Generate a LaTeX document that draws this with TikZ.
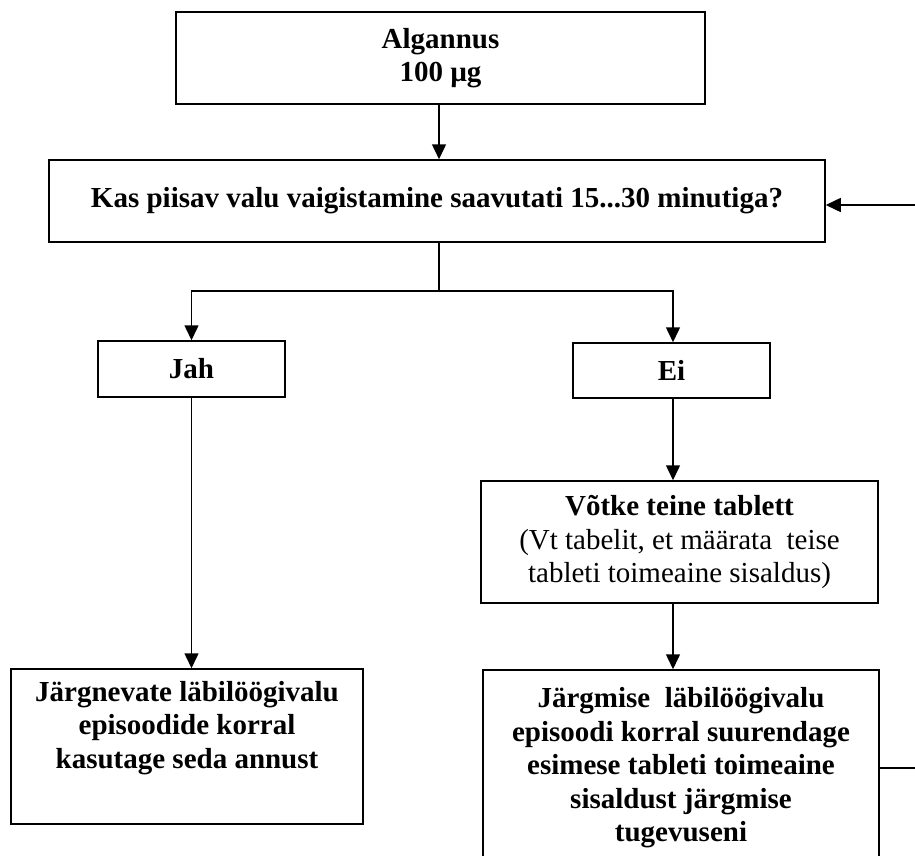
\documentclass[tikz,border=0pt]{standalone}
\usepackage{fontspec}
\setmainfont{Liberation Serif}
\usetikzlibrary{arrows.meta}
\tikzset{
  box/.style={draw, line width=1.5pt, rectangle, inner sep=0pt, align=center,
    font=\fontsize{29}{33.5}\selectfont\bfseries},
  arr/.style={line width=1.5pt, -{Triangle[length=15pt,width=14pt]}},
  ln/.style={line width=1.5pt}
}
\begin{document}
\begin{tikzpicture}[x=1pt,y=-1pt]
\clip (0,0) rectangle (915,856);
\fill[white] (0,0) rectangle (915,856);
\node[box, minimum width=529pt, minimum height=92pt] (A) at (440.5,58) {Algannus\\100 µg};
\node[box, minimum width=776pt, minimum height=82pt] (Q) at (437,201) {Kas piisav valu vaigistamine saavutati 15...30\ minutiga?};
\node[box, minimum width=187pt, minimum height=56pt] (Jah) at (191.5,369) {Jah};
\node[box, minimum width=197pt, minimum height=55pt] (Ei) at (671.5,370.5) {Ei};
\node[box, minimum width=352pt, minimum height=155pt] (J2) at (187,746.5) {Järgnevate läbilöögivalu\\episoodide korral\\kasutage seda annust\\\strut};
\node[box, minimum width=397pt, minimum height=122pt] (V) at (679.5,542) {Võtke teine tablett\\\mdseries(Vt tabelit, et määrata\ \ teise\\\mdseries tableti toimeaine sisaldus)};
\node[box, minimum width=396pt, minimum height=196pt] (L) at (681,768) {Järgmise\ \ läbilöögivalu\\episoodi korral suurendage\\esimese tableti toimeaine\\sisaldust järgmise\\tugevuseni};
\coordinate (br) at (439,291);
\coordinate (fb1) at (925,768);
\coordinate (fb2) at (925,205);
\draw[arr] (A.south -| br) -- (Q.north -| br);
\draw[ln] (Q.south -| br) -- (br);
\draw[arr] (br) -| (Jah.north);
\draw[arr] (br) -| (Ei.north -| 673,0);
\draw[arr] (Jah.south) -- (Jah.south |- J2.north);
\draw[arr] (Ei.south -| 673,0) -- (V.north -| 673,0);
\draw[arr] (V.south -| 673,0) -- (L.north -| 673,0);
\draw[arr] (L.east) -- (fb1) -- (fb2) -- (fb2 -| Q.east);
\end{tikzpicture}
\end{document}
